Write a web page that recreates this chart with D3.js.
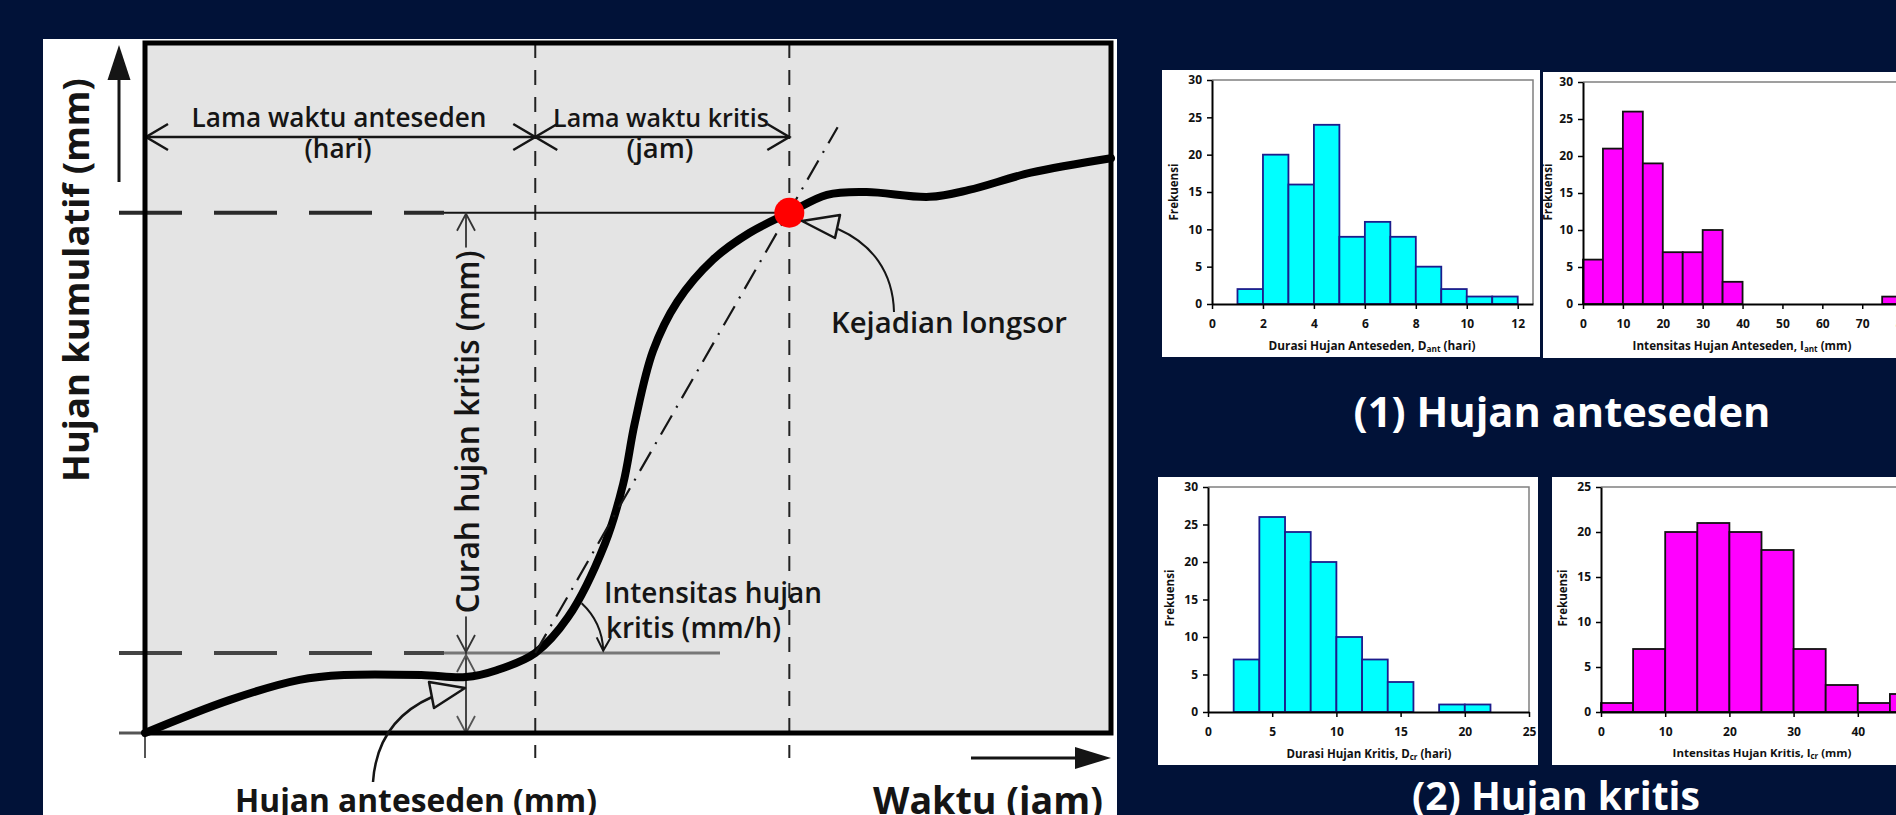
<!DOCTYPE html>
<html>
<head>
<meta charset="utf-8">
<script src="https://cdn.jsdelivr.net/npm/d3@7"></script>
<style>
  html, body { margin: 0; padding: 0; background: #011238; overflow: hidden; }
  svg { display: block; }
</style>
</head>
<body>
<svg id="chart" width="1896" height="815"></svg>
<script>
(function() {

  // cumulative rainfall schematic, time and rain in % of the box
  var curveTime = [0, 8.8, 16.0, 20.6, 28.6, 33.2, 36.4, 40.4, 43.8, 47.6, 49.5, 50.7, 52.6, 55.1, 58.8, 62.6, 66.7, 70.6, 74.7, 81.2, 85.3, 91.7, 100],
  curveRain = [0, 4.8, 7.7, 8.4, 8.4, 8.1, 9.1, 11.6, 16.8, 27.4, 36.1, 44.9, 55.4, 62.5, 68.6, 72.5, 75.4, 78.0, 78.4, 77.7, 78.7, 81.2, 83.3],
  tangentTime = [40.4, 71.7],
  tangentRain = [11.6, 87.8],
  // end of antecedent period, landslide
  eventTime = [40.4, 66.7],
  eventRain = [11.6, 75.4],

  // histograms
  dAntBins = [1, 2, 3, 4, 5, 6, 7, 8, 9, 10, 11],
  dAntFreq = [2, 20, 16, 24, 9, 11, 9, 5, 2, 1, 1],
  iAntBins = [0, 5, 10, 15, 20, 25, 30, 35, 75],
  iAntFreq = [6, 21, 26, 19, 7, 7, 10, 3, 1],
  dCrBins = [2, 4, 6, 8, 10, 12, 14, 18, 20],
  dCrFreq = [7, 26, 24, 20, 10, 7, 4, 1, 1],
  iCrBins = [0, 5, 10, 15, 20, 25, 30, 35, 40, 45],
  iCrFreq = [1, 7, 20, 21, 20, 18, 7, 3, 1, 2],

  dAntTicks = [0, 2, 4, 6, 8, 10, 12],
  iAntTicks = [0, 10, 20, 30, 40, 50, 60, 70, 80],
  dCrTicks = [0, 5, 10, 15, 20, 25],
  iCrTicks = [0, 10, 20, 30, 40, 50],
  freqTicks30 = [0, 5, 10, 15, 20, 25, 30],
  freqTicks25 = [0, 5, 10, 15, 20, 25],

  FONT = "'Open Sans', 'DejaVu Sans', sans-serif",
  BG = "#011238",
  BOX = "#e4e4e4",
  INK = "#151515",

  svg = d3.select("#chart"),
  defs = svg.append("defs"),
  fitText, chevron, addText, drawDiagram, drawHist;

  fitText = function(sel, w) {
    var fs = parseFloat(sel.attr("font-size")),
        len = sel.node().getComputedTextLength();
    if (len > 0) sel.attr("font-size", (fs * w / len).toFixed(2));
    return sel;
  };

  // open arrow head, dir = degrees the tip points to
  chevron = function(g, x, y, dir, len, half, color, w) {
    g.append("path")
      .attr("d", "M" + (-len) + "," + (-half) + "L0,0L" + (-len) + "," + half)
      .attr("transform", "translate(" + x + "," + y + ") rotate(" + dir + ")")
      .attr("fill", "none")
      .attr("stroke", color || INK)
      .attr("stroke-width", w || 2.5);
  };

  addText = function(g, str, x, y, w, opts) {
    opts = opts || {};
    var t = g.append("text")
      .attr("x", x).attr("y", y)
      .attr("font-family", FONT)
      .attr("font-size", 20)
      .attr("font-weight", opts.bold ? "bold" : "600")
      .attr("fill", opts.fill || INK)
      .attr("text-anchor", opts.anchor || "middle")
      .text(str);
    if (opts.rotate) {
      t.attr("x", 0).attr("y", 0)
        .attr("dominant-baseline", "central")
        .attr("transform", "translate(" + x + "," + y + ") rotate(-90)");
    }
    return fitText(t, w);
  };

  svg.append("rect").attr("width", 1896).attr("height", 815).attr("fill", BG);

  drawDiagram = function() {
    var xD = d3.scaleLinear().domain([0, 100]).range([145, 1111]),
        yD = d3.scaleLinear().domain([0, 100]).range([733, 43]),
        g = svg.append("g"),
        xA = xD(eventTime[0]), xL = xD(eventTime[1]),
        yA = yD(eventRain[0]), yK = yD(eventRain[1]);

    g.append("rect").attr("x", 43).attr("y", 39).attr("width", 1074).attr("height", 776).attr("fill", "#fff");
    g.append("rect")
      .attr("x", xD(0)).attr("y", yD(100))
      .attr("width", xD(100) - xD(0)).attr("height", yD(0) - yD(100))
      .attr("fill", BOX);

    // vertical guides
    g.selectAll(".vguide").data(eventTime).enter().append("line")
      .attr("class", "vguide")
      .attr("x1", function(d) { return xD(d); }).attr("x2", function(d) { return xD(d); })
      .attr("y1", yD(100)).attr("y2", 758)
      .attr("stroke", "#222").attr("stroke-width", 2)
      .attr("stroke-dasharray", "15,12");

    // horizontal guides
    g.selectAll(".hguide").data(eventRain).enter().append("line")
      .attr("class", "hguide")
      .attr("x1", 119).attr("x2", 444)
      .attr("y1", function(d) { return yD(d); }).attr("y2", function(d) { return yD(d); })
      .attr("stroke", function(d, i) { return i ? "#2a2a2a" : "#444"; })
      .attr("stroke-width", 4)
      .attr("stroke-dasharray", "63,32");
    g.append("line").attr("x1", 444).attr("x2", xL).attr("y1", yK).attr("y2", yK)
      .attr("stroke", INK).attr("stroke-width", 2);
    g.append("line").attr("x1", 444).attr("x2", 720).attr("y1", yA).attr("y2", yA)
      .attr("stroke", "#777").attr("stroke-width", 3);

    // origin ticks
    g.append("line").attr("x1", xD(0)).attr("x2", xD(0)).attr("y1", yD(0)).attr("y2", 758)
      .attr("stroke", "#555").attr("stroke-width", 2);
    g.append("line").attr("x1", 119).attr("x2", xD(0)).attr("y1", yD(0)).attr("y2", yD(0))
      .attr("stroke", "#555").attr("stroke-width", 3);

    // axis arrows
    g.append("line").attr("x1", 119).attr("x2", 119).attr("y1", 182).attr("y2", 76)
      .attr("stroke", INK).attr("stroke-width", 3);
    g.append("path").attr("d", "M119,45L107.5,80L130.5,80Z").attr("fill", INK);
    g.append("line").attr("x1", 971).attr("x2", 1078).attr("y1", 758).attr("y2", 758)
      .attr("stroke", INK).attr("stroke-width", 3);
    g.append("path").attr("d", "M1111,758L1075,747L1075,769Z").attr("fill", INK);

    // period dimension arrows
    g.append("line").attr("x1", xD(0)).attr("x2", xL).attr("y1", 137).attr("y2", 137)
      .attr("stroke", INK).attr("stroke-width", 2.5);
    chevron(g, xD(0) + 1, 137, 180, 22, 13);
    chevron(g, xA, 137, 0, 22, 13);
    chevron(g, xA, 137, 180, 22, 13);
    chevron(g, xL, 137, 0, 22, 13);

    addText(g, "Lama waktu anteseden", 339, 127, 295);
    addText(g, "(hari)", 338, 158, 67);
    addText(g, "Lama waktu kritis", 661, 127, 216);
    addText(g, "(jam)", 660, 158, 67);

    // critical rainfall / antecedent rainfall arrows
    g.append("line").attr("x1", 466).attr("x2", 466).attr("y1", yK).attr("y2", yD(0))
      .attr("stroke", "#333").attr("stroke-width", 1.8);
    chevron(g, 466, yK + 1, -90, 17, 9, "#333", 1.8);
    chevron(g, 466, yA - 1, 90, 17, 9, "#333", 1.8);
    chevron(g, 466, yA + 2, -90, 17, 9, "#555", 1.8);
    chevron(g, 466, yD(0), 90, 17, 9, "#555", 1.8);
    var ct = addText(g, "Curah hujan kritis (mm)", 466, 432, 363, { rotate: true }),
        bb = ct.node().getBBox();
    g.insert("rect", function() { return ct.node(); })
      .attr("x", bb.x - 3).attr("y", bb.y + 2)
      .attr("width", bb.width + 6).attr("height", bb.height - 4)
      .attr("transform", ct.attr("transform"))
      .attr("fill", BOX);

    // critical intensity angle
    var cx = xD(tangentTime[0]), cy = yD(tangentRain[0]), r = 68,
        a1 = -47 * Math.PI / 180, a2 = -2 * Math.PI / 180;
    g.append("path")
      .attr("d", "M" + (cx + r * Math.cos(a1)) + "," + (cy + r * Math.sin(a1)) +
        "A" + r + "," + r + " 0 0 1 " + (cx + r * Math.cos(a2)) + "," + (cy + r * Math.sin(a2)))
      .attr("fill", "none").attr("stroke", INK).attr("stroke-width", 2);
    chevron(g, cx + r * Math.cos(a2), cy + r * Math.sin(a2), 92, 13, 7, INK, 2);
    var it = addText(g, "Intensitas hujan", 604, 603, 218, { anchor: "start" });
    g.append("text").attr("x", 606).attr("y", 638)
      .attr("font-family", FONT).attr("font-size", it.attr("font-size")).attr("font-weight", "600")
      .attr("fill", INK).text("kritis (mm/h)");

    // box border
    g.append("rect")
      .attr("x", xD(0)).attr("y", yD(100))
      .attr("width", xD(100) - xD(0)).attr("height", yD(0) - yD(100))
      .attr("fill", "none").attr("stroke", "#000").attr("stroke-width", 5);

    // cumulative curve
    var line = d3.line()
      .x(function(d) { return xD(d[0]); })
      .y(function(d) { return yD(d[1]); })
      .curve(d3.curveCatmullRom.alpha(0.5));
    g.append("path")
      .datum(d3.zip(curveTime, curveRain))
      .attr("d", line)
      .attr("fill", "none").attr("stroke", "#000")
      .attr("stroke-width", 8).attr("stroke-linecap", "round");

    // tangent (critical intensity)
    g.append("path")
      .datum(d3.zip(tangentTime, tangentRain))
      .attr("d", d3.line().x(function(d) { return xD(d[0]); }).y(function(d) { return yD(d[1]); }))
      .attr("fill", "none").attr("stroke", INK).attr("stroke-width", 2.2)
      .attr("stroke-dasharray", "22,9,2,9");

    // landslide point
    g.append("circle").attr("cx", xL).attr("cy", yK).attr("r", 15).attr("fill", "#ff0000");

    // pointer for landslide
    g.append("path").attr("d", "M894,312C893,272 872,244 838,229")
      .attr("fill", "none").attr("stroke", INK).attr("stroke-width", 2);
    g.append("path").attr("d", "M802,221L840,215L835,238Z")
      .attr("fill", BOX).attr("stroke", INK).attr("stroke-width", 2.5).attr("stroke-linejoin", "round");
    addText(g, "Kejadian longsor", 831, 333, 236, { anchor: "start" });

    // pointer for antecedent rainfall
    g.append("path").attr("d", "M373,782C376,738 398,712 432,697")
      .attr("fill", "none").attr("stroke", INK).attr("stroke-width", 2.5);
    g.append("path").attr("d", "M465,688L429,682L434,708Z")
      .attr("fill", BOX).attr("stroke", INK).attr("stroke-width", 2.5).attr("stroke-linejoin", "round");

    addText(g, "Hujan anteseden (mm)", 235, 812, 362, { anchor: "start", bold: true });
    addText(g, "Waktu (jam)", 873, 814, 230, { anchor: "start", bold: true });
    addText(g, "Hujan kumulatif (mm)", 75, 280, 404, { rotate: true, bold: true });
  };

  drawHist = function(o) {
    var id = "clip" + o.id, p = o.plot,
        g, x, y, ax, ay, lab;
    defs.append("clipPath").attr("id", id).append("rect")
      .attr("x", o.panel[0]).attr("y", o.panel[1]).attr("width", o.panel[2]).attr("height", o.panel[3]);
    g = svg.append("g").attr("clip-path", "url(#" + id + ")");
    g.append("rect")
      .attr("x", o.panel[0]).attr("y", o.panel[1]).attr("width", o.panel[2]).attr("height", o.panel[3])
      .attr("fill", "#fff");

    x = d3.scaleLinear().domain(o.xDomain).range([p.l, p.r]);
    y = d3.scaleLinear().domain([0, o.yTicks[o.yTicks.length - 1]]).range([p.b, p.t]);

    g.append("path")
      .attr("d", "M" + p.l + "," + p.t + "H" + p.r + "V" + p.b)
      .attr("fill", "none").attr("stroke", "#808080").attr("stroke-width", 1.5);

    g.selectAll(".bar").data(o.bins).enter().append("rect")
      .attr("class", "bar")
      .attr("x", function(d) { return x(d); })
      .attr("y", function(d, i) { return y(o.freq[i]); })
      .attr("width", function(d) { return x(d + o.binW) - x(d); })
      .attr("height", function(d, i) { return y(0) - y(o.freq[i]); })
      .attr("fill", o.fill).attr("stroke", o.stroke).attr("stroke-width", 1.8);

    ax = g.append("g").attr("transform", "translate(0," + p.b + ")")
      .call(d3.axisBottom(x).tickValues(o.xTicks).tickSize(5).tickSizeOuter(0).tickPadding(10));
    ay = g.append("g").attr("transform", "translate(" + p.l + ",0)")
      .call(d3.axisLeft(y).tickValues(o.yTicks).tickSize(5).tickSizeOuter(0).tickPadding(5));
    [ax, ay].forEach(function(a) {
      a.select(".domain").attr("stroke", "#000").attr("stroke-width", 2);
      a.selectAll(".tick line").attr("stroke", "#000").attr("stroke-width", 1.5);
      a.selectAll("text")
        .attr("font-family", FONT).attr("font-size", 12)
        .attr("font-weight", "bold").attr("fill", "#111");
    });

    lab = g.append("text")
      .attr("x", o.xLabelPos[0]).attr("y", o.xLabelPos[1])
      .attr("font-family", FONT).attr("font-size", 10).attr("font-weight", "bold")
      .attr("fill", "#111").attr("text-anchor", "middle");
    lab.append("tspan").text(o.xLabel[0]);
    lab.append("tspan").attr("font-size", "0.7em").attr("dy", "0.3em").text(o.xLabel[1]);
    lab.append("tspan").attr("dy", "-0.21em").text(o.xLabel[2]);
    fitText(lab, o.xLabelW);

    g.append("text")
      .attr("transform", "translate(" + o.yLabelPos[0] + "," + o.yLabelPos[1] + ") rotate(-90)")
      .attr("font-family", FONT).attr("font-size", 10).attr("font-weight", "bold")
      .attr("fill", "#111").attr("text-anchor", "middle").attr("dominant-baseline", "central")
      .text("Frekuensi")
      .call(fitText, 57);
  };

  drawDiagram();

  drawHist({
    id: 1, panel: [1162, 70, 378, 287],
    plot: { l: 1212, r: 1533, t: 80, b: 304 },
    xDomain: [0, 12.6], xTicks: dAntTicks, yTicks: freqTicks30,
    bins: dAntBins, freq: dAntFreq, binW: 1,
    fill: "#00ffff", stroke: "#1c1c8c",
    xLabel: ["Durasi Hujan Anteseden, D", "ant", " (hari)"], xLabelPos: [1372, 350], xLabelW: 207,
    yLabelPos: [1173, 192]
  });

  drawHist({
    id: 2, panel: [1543, 72, 353, 286],
    plot: { l: 1583, r: 1942, t: 82, b: 304 },
    xDomain: [0, 90], xTicks: iAntTicks, yTicks: freqTicks30,
    bins: iAntBins, freq: iAntFreq, binW: 5,
    fill: "#ff00ff", stroke: "#111",
    xLabel: ["Intensitas Hujan Anteseden, I", "ant", " (mm)"], xLabelPos: [1742, 350], xLabelW: 219,
    yLabelPos: [1547, 192]
  });

  drawHist({
    id: 3, panel: [1158, 477, 380, 288],
    plot: { l: 1208, r: 1529, t: 487, b: 712 },
    xDomain: [0, 25], xTicks: dCrTicks, yTicks: freqTicks30,
    bins: dCrBins, freq: dCrFreq, binW: 2,
    fill: "#00ffff", stroke: "#1c1c8c",
    xLabel: ["Durasi Hujan Kritis, D", "cr", " (hari)"], xLabelPos: [1369, 758], xLabelW: 165,
    yLabelPos: [1169, 598]
  });

  drawHist({
    id: 4, panel: [1552, 477, 344, 288],
    plot: { l: 1601, r: 1922, t: 487, b: 712 },
    xDomain: [0, 50], xTicks: iCrTicks, yTicks: freqTicks25,
    bins: iCrBins, freq: iCrFreq, binW: 5,
    fill: "#ff00ff", stroke: "#111",
    xLabel: ["Intensitas Hujan Kritis, I", "cr", " (mm)"], xLabelPos: [1762, 757], xLabelW: 179,
    yLabelPos: [1562, 598]
  });

  // captions
  addText(svg, "(1) Hujan anteseden", 1562, 427, 417, { bold: true, fill: "#fff" });
  addText(svg, "(2) Hujan kritis", 1556, 810, 288, { bold: true, fill: "#fff" });

}());
</script>
</body>
</html>
